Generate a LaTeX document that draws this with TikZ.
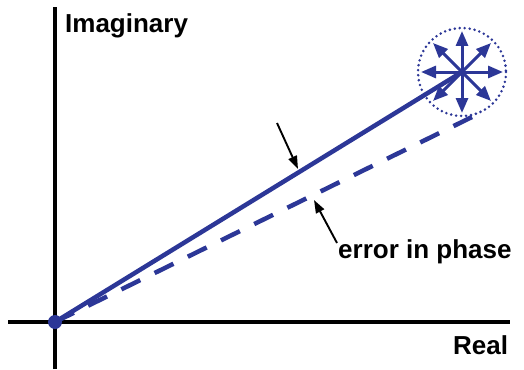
\documentclass[tikz,border=0pt]{standalone}
\usepackage{fontspec}
\setmainfont{Liberation Sans}
\usetikzlibrary{positioning,arrows.meta}
\definecolor{phBlue}{HTML}{2C3797}

\begin{document}
\begin{tikzpicture}[x=1pt,y=-1pt,
    lbl/.style={font=\fontsize{26}{30}\selectfont\bfseries,inner sep=0pt},
    axis/.style={line width=3.2pt,black},
    vec/.style={line width=4.5pt,phBlue},
    ptr/.style={line width=1.9pt,-{Triangle[length=13pt,width=9pt]}},
    spoke/.style={line width=3pt,phBlue,-{Triangle[length=15pt,width=12pt]}}]
  \useasboundingbox (0,0) rectangle (524,369);
  % axes
  \coordinate (origin) at (55,322);
  \coordinate (ytop) at (55,7);
  \coordinate (ybot) at (55,369);
  \coordinate (xleft) at (8,322);
  \coordinate (xright) at (510,322);
  \draw[axis] (ybot) -- (ytop);
  \draw[axis] (xleft) -- (xright);
  \node[lbl,anchor=base west] (imag) at (65,33) {Imaginary};
  \node[lbl,anchor=base west] (real) at (453,354) {Real};
  % phasors
  \coordinate (tip) at (462,72);
  \coordinate (phase) at (472,117);
  \draw[vec,dash pattern=on 21pt off 16pt] (origin) -- (phase);
  \draw[vec] (origin) -- (tip);
  \fill[phBlue] (origin) circle (7);
  % noise around the tip
  \draw[phBlue,line width=2.8pt,line cap=round,dash pattern=on 0pt off 5pt] (tip) circle (44);
  \foreach \a in {0,45,...,315}
    \draw[spoke] (tip) -- ++(\a:41);
  % pointers
  \coordinate (p1) at (277,123);
  \coordinate (p1end) at (298,169);
  \coordinate (p2) at (337,243);
  \coordinate (p2end) at (314,200);
  \draw[ptr] (p1) -- (p1end);
  \draw[ptr] (p2) -- (p2end);
  \node[lbl,anchor=base west] (err) at (338,258) {error in phase};
\end{tikzpicture}
\end{document}
